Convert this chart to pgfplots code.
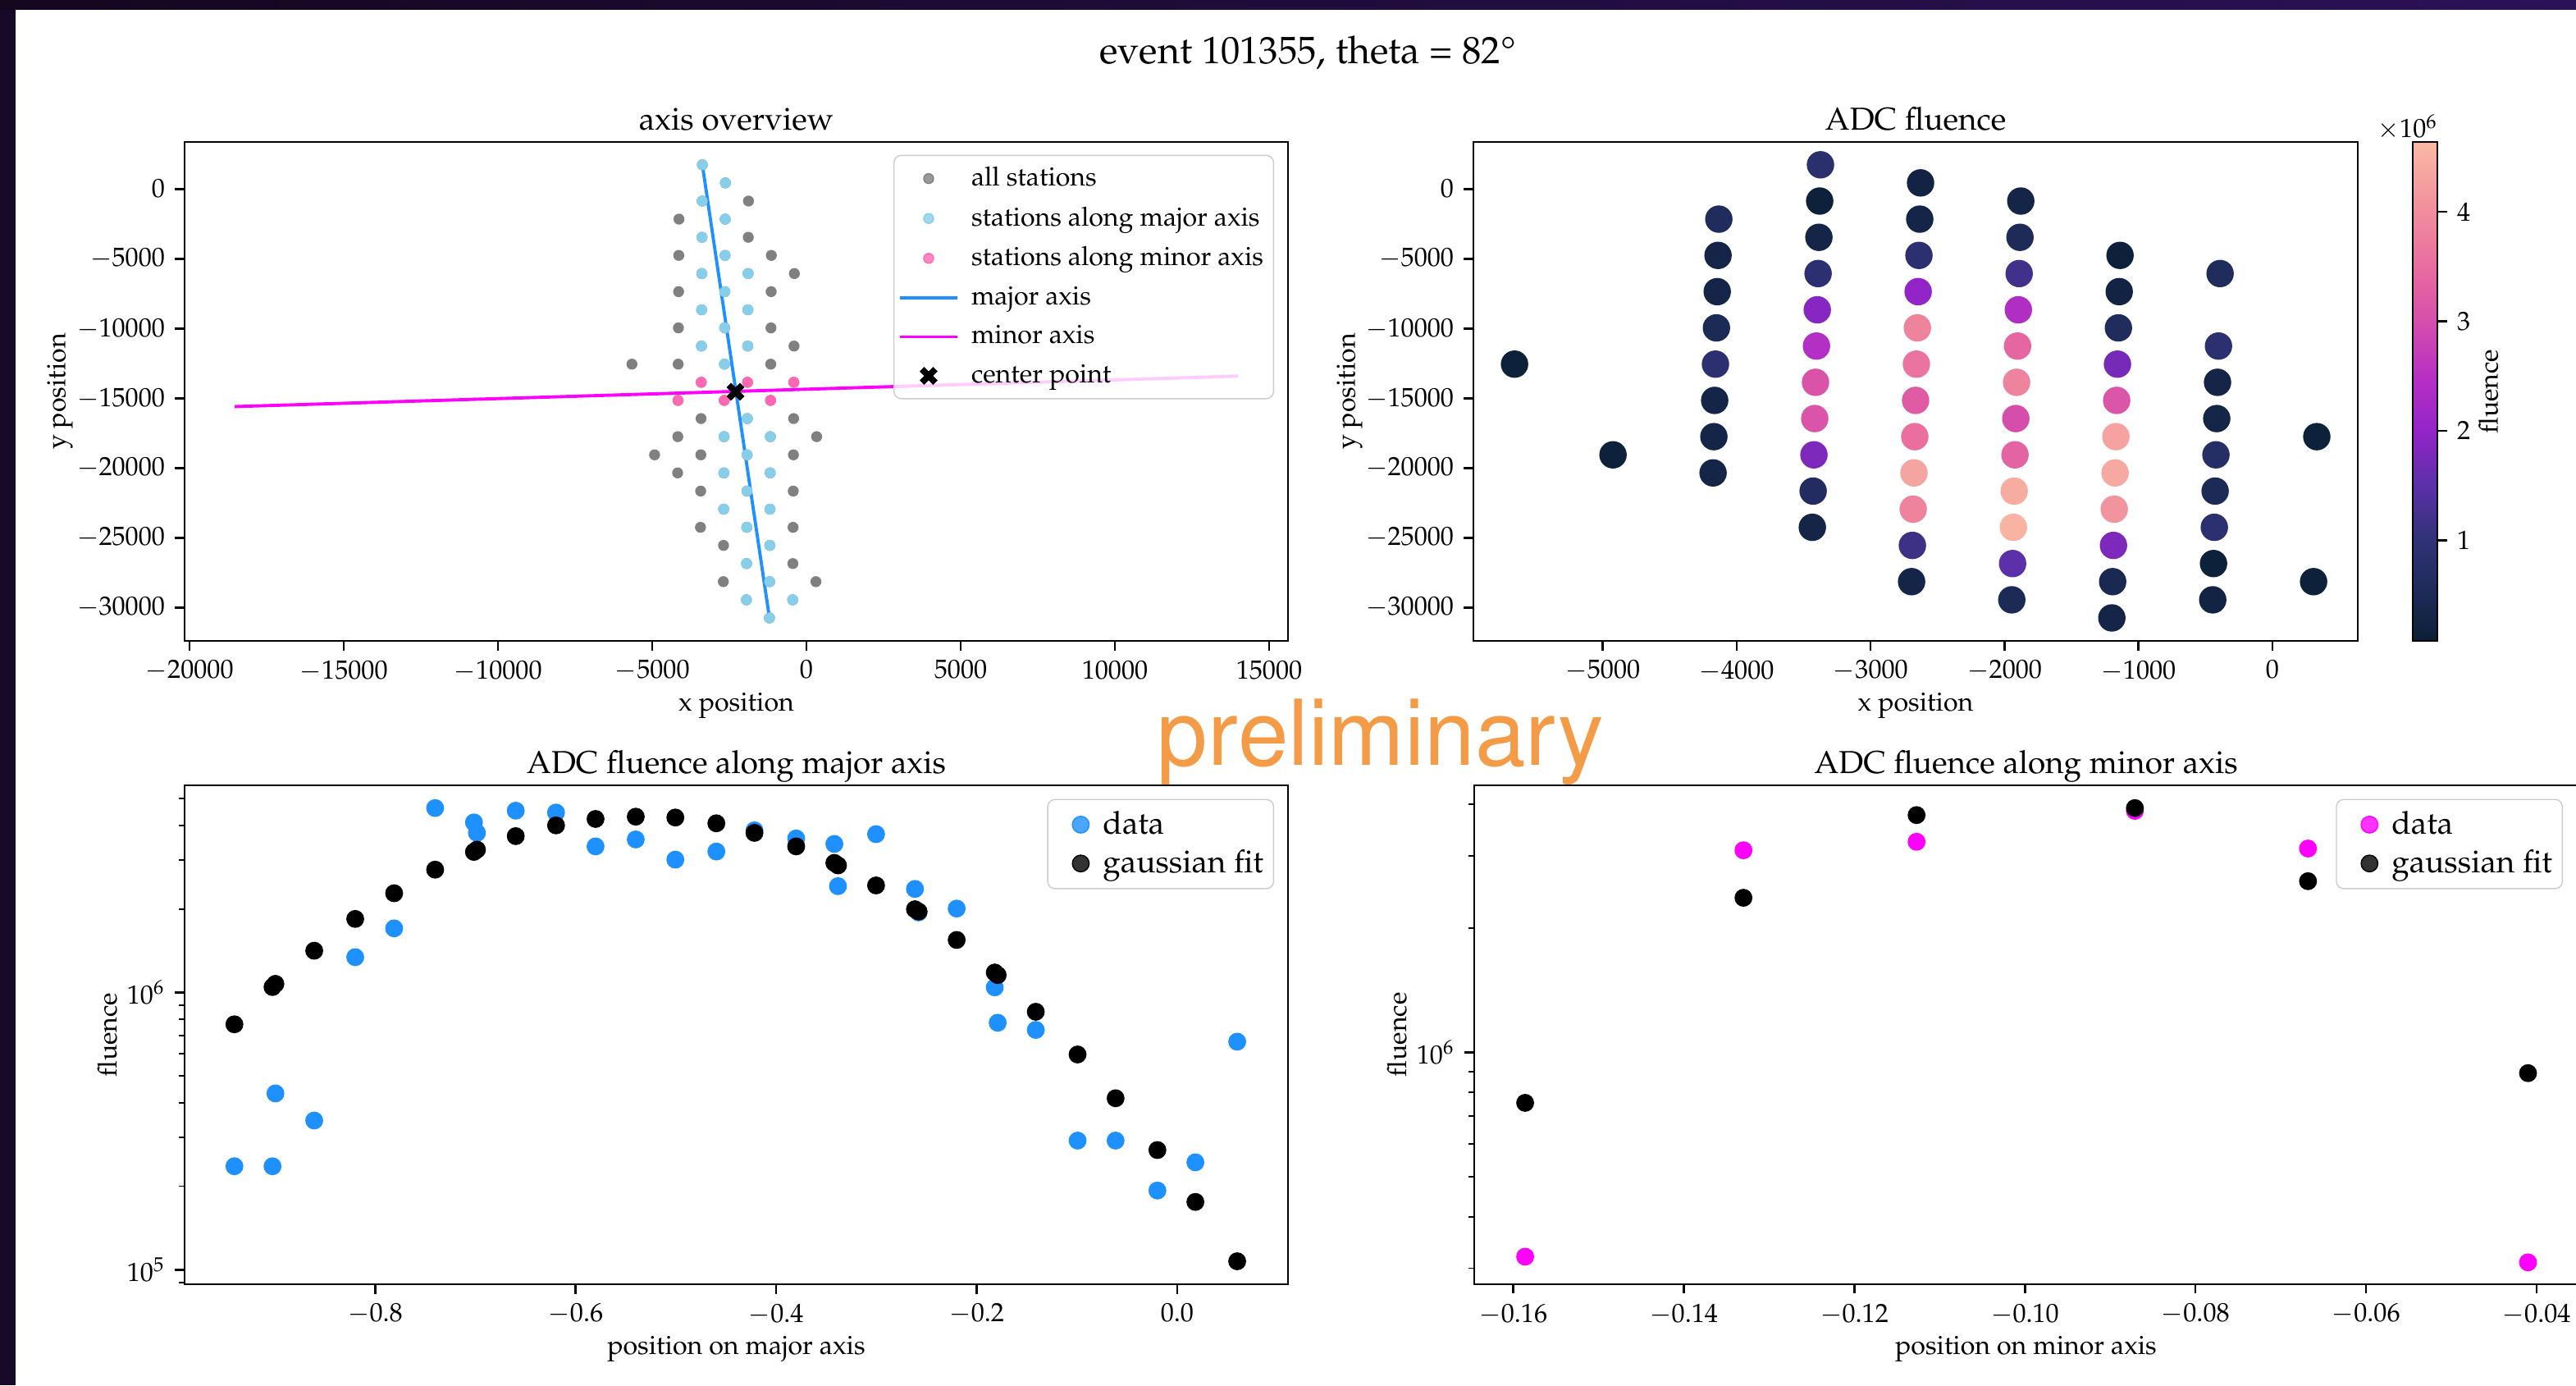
\documentclass[border=0pt]{standalone}
\usepackage[T1]{fontenc}
\usepackage{mathpazo}
\usepackage{pgfplots}
\pgfplotsset{compat=1.18}
\usepackage{pgfplotstable}

\definecolor{skyblue}{HTML}{87CEEB}
\definecolor{hotpink}{HTML}{FF69B4}
\definecolor{dodger}{HTML}{1E90FF}
\definecolor{mgray}{HTML}{808080}
\definecolor{mmag}{HTML}{FF00FF}
\definecolor{wmark}{RGB}{244,155,72}
\definecolor{frameL}{HTML}{14071E}
\definecolor{frameR}{HTML}{2B1157}

\newcommand\tickfont{\fontsize{9.15}{11}\selectfont}
\newcommand\titlefont{\fontsize{11}{13.2}\selectfont}

% stations: x, y, fluence (1e6), c = 0 other / 1 major axis / 2 minor axis
\pgfplotstableread{
x y f c
-5658 -12558 0.15 0
-4923 -19056 0.15 0
-4133 -2166 0.60 0
-4139 -4764 0.30 0
-4145 -7362 0.30 0
-4151 -9960 0.50 0
-4158 -12558 0.90 0
-4164 -15156 0.32 2
-4170 -17754 0.30 0
-4176 -20352 0.30 0
-3374 1728 0.85 1
-3380 -870 0.15 1
-3386 -3468 0.30 1
-3392 -6066 0.90 1
-3398 -8664 1.90 1
-3404 -11262 2.45 1
-3411 -13860 3.09 2
-3417 -16458 3.10 0
-3423 -19056 1.80 0
-3429 -21654 0.65 0
-3435 -24252 0.30 0
-2627 432 0.25 1
-2633 -2166 0.30 1
-2639 -4764 0.90 1
-2645 -7362 2.00 1
-2651 -9960 3.85 1
-2658 -12558 3.60 1
-2664 -15156 3.24 2
-2670 -17754 3.55 1
-2676 -20352 4.35 1
-2682 -22950 3.85 1
-2688 -25548 1.15 0
-2694 -28146 0.30 0
-1879 -870 0.30 0
-1885 -3468 0.55 0
-1891 -6066 1.20 1
-1897 -8664 2.40 1
-1903 -11262 3.40 1
-1910 -13860 3.85 2
-1916 -16458 3.00 1
-1922 -19056 3.35 1
-1928 -21654 4.45 1
-1934 -24252 4.55 1
-1940 -26850 1.50 1
-1946 -29448 0.50 1
-1138 -4764 0.15 0
-1144 -7362 0.25 0
-1150 -9960 0.60 0
-1157 -12558 1.75 0
-1163 -15156 3.12 2
-1169 -17754 4.30 1
-1175 -20352 4.40 1
-1181 -22950 4.10 1
-1187 -25548 1.80 1
-1193 -28146 0.45 1
-1199 -30744 0.30 1
-391 -6066 0.60 0
-403 -11262 0.90 0
-410 -13860 0.31 2
-416 -16458 0.30 0
-422 -19056 0.75 0
-428 -21654 0.50 0
-434 -24252 0.90 0
-440 -26850 0.15 0
-446 -29448 0.25 1
331 -17754 0.15 0
307 -28146 0.15 0
}\stations

\pgfplotstableread{
pos data fit
-0.9403 2.36e5 7.67e5
-0.9023 2.36e5 1.045e6
-0.8994 4.32e5 1.073e6
-0.8607 3.45e5 1.413e6
-0.8198 1.339e6 1.84e6
-0.7810 1.701e6 2.277e6
-0.7401 4.62e6 2.77e6
-0.7014 4.10e6 3.21e6
-0.6984 3.76e6 3.27e6
-0.6597 4.52e6 3.66e6
-0.6195 4.45e6 4.00e6
-0.5801 3.36e6 4.22e6
-0.5400 3.56e6 4.30e6
-0.5005 3.01e6 4.27e6
-0.4596 3.22e6 4.07e6
-0.4216 3.84e6 3.76e6
-0.3800 3.59e6 3.36e6
-0.3419 3.43e6 2.93e6
-0.3383 2.415e6 2.87e6
-0.3003 3.72e6 2.43e6
-0.2615 2.36e6 1.994e6
-0.2579 1.942e6 1.957e6
-0.2199 2.005e6 1.545e6
-0.1819 1.042e6 1.179e6
-0.1790 7.77e5 1.154e6
-0.1410 7.32e5 8.51e5
-0.0993 2.92e5 5.97e5
-0.0614 2.92e5 4.15e5
-0.0197 1.929e5 2.70e5
0.0182 2.438e5 1.755e5
0.0599 6.64e5 1.072e5
}\major

\pgfplotstableread{
pos data fit
-0.1586 3.20e5 7.55e5
-0.1330 3.09e6 2.37e6
-0.1127 3.24e6 3.76e6
-0.0871 3.85e6 3.91e6
-0.0668 3.12e6 2.60e6
-0.0410 3.10e5 8.91e5
}\minor

\pgfplotsset{
  mpl/.style={
    scale only axis,
    anchor=south west,
    tick align=outside,
    tick pos=left,
    major tick length=3.3pt,
    minor tick length=1.9pt,
    tick style={black, line width=0.75pt},
    minor tick style={line width=0.55pt},
    axis line style={line width=0.75pt},
    tick label style={font=\tickfont},
    label style={font=\tickfont},
    title style={font=\titlefont, anchor=base, yshift=-1.8pt},
    xlabel shift=-0.1cm,
    scaled ticks=false,
    legend cell align=left,
    legend style={font=\tickfont, draw=black!20, rounded corners=2.5pt, inner xsep=1.5pt,
      fill=white, fill opacity=0.8, text opacity=1, anchor=north east, row sep=1.7pt},
  },
  % line in legend
  legl/.style={legend image code/.code={%
    \draw[##1] (0cm,0cm) -- (0.7cm,0cm);
    \path[draw=none] (0cm,0cm) -- (0.8cm,0cm);}},
  % marker in a long legend slot
  legm/.style={legend image code/.code={%
    \path[##1, only marks] plot coordinates {(0.35cm,0cm)};
    \path[draw=none] (0cm,0cm) -- (0.8cm,0cm);}},
  % marker in a short legend slot
  legs/.style={legend image code/.code={%
    \path[##1, only marks] plot coordinates {(0.35cm,0cm)};
    \path[draw=none] (0cm,0cm) -- (0.55cm,0cm);}},
}

\begin{document}
\begin{tikzpicture}
\fill[white] (0.19,0) rectangle (31.4,16.76);
\fill[frameL!80!frameR] (0,0) rectangle (0.19,16.88);
\shade[left color=frameL, right color=frameR] (0,16.76) rectangle (31.4,16.88);

\node[font=\fontsize{13.25}{16}\selectfont] at (15.94,16.24) {event 101355, theta = 82\textdegree};

% axis overview
\begin{axis}[mpl, at={(2.25cm,9.07cm)}, width=13.45cm, height=6.08cm,
  xmin=-20160, xmax=15612, ymin=-32390, ymax=3365,
  xtick={-20000,-15000,...,15000}, ytick={-30000,-25000,...,0},
  /pgf/number format/.cd, fixed, precision=0, set thousands separator={}, /pgfplots/.cd,
  title={axis overview}, xlabel={x position}, ylabel={y position}, ylabel shift=-0.19cm,
  legend style={at={(0.9874,0.9743)}}]
\addplot[only marks, mark=*, mark size=1.7pt, mgray, legm] table[x=x, y=y] {\stations};
\addplot[only marks, mark=*, mark size=1.7pt, skyblue, legm,
  restrict expr to domain={\thisrow{c}}{1:1}] table[x=x, y=y] {\stations};
\addplot[only marks, mark=*, mark size=1.7pt, hotpink, legm,
  restrict expr to domain={\thisrow{c}}{2:2}] table[x=x, y=y] {\stations};
\addplot[dodger, line width=1.1pt, legl] coordinates {(-3374,1728) (-1199,-30744)};
\addplot[mmag, line width=1.1pt, legl] coordinates {(-18534,-15600) (13986,-13416)};
\addplot[only marks, mark=x, mark size=3.3pt, line width=2.2pt, black, legm] coordinates {(-2300,-14540)};
\legend{all stations, stations along major axis, stations along minor axis, major axis, minor axis, center point}
\end{axis}

% ADC fluence map
\begin{axis}[mpl, at={(17.96cm,9.07cm)}, width=10.78cm, height=6.08cm,
  xmin=-5965, xmax=637, ymin=-32390, ymax=3365,
  xtick={-5000,-4000,...,0}, ytick={-30000,-25000,...,0},
  /pgf/number format/.cd, fixed, precision=0, set thousands separator={}, /pgfplots/.cd,
  title={ADC fluence}, xlabel={x position}, ylabel={y position}, ylabel shift=-0.2cm,
  colormap={fl}{rgb255(0pt)=(11,31,54) rgb255(417pt)=(28,42,86) rgb255(917pt)=(48,50,118)
    rgb255(1417pt)=(91,48,168) rgb255(1917pt)=(147,36,200) rgb255(2417pt)=(184,48,196)
    rgb255(2917pt)=(214,78,171) rgb255(3417pt)=(233,108,159) rgb255(3917pt)=(240,141,157)
    rgb255(4553pt)=(250,185,163)},
  point meta min=0.083, point meta max=4.636,
  colorbar,
  colorbar style={at={(1.0622,1)}, anchor=north west, width=0.3cm,
    ytick={1,2,3,4}, yticklabel pos=right, ytick pos=right,
    tick align=outside, major tick length=3.3pt, tick style={black, line width=0.75pt},
    axis line style={line width=0.75pt},
    yticklabel style={font=\tickfont},
    ylabel={fluence}, ylabel style={font=\tickfont}, ylabel shift=-0.14cm}]
\addplot[scatter, only marks, mark=*, mark size=4.55pt, scatter src=explicit,
  scatter/use mapped color={draw=mapped color, fill=mapped color}]
  table[x=x, y=y, meta=f] {\stations};
\end{axis}
\node[anchor=east, inner sep=0pt, font=\tickfont] at (29.72,15.33) {$\times10^{6}$};

% along major axis
\begin{axis}[mpl, at={(2.25cm,1.23cm)}, width=13.45cm, height=6.08cm, ymode=log,
  xmin=-0.99, xmax=0.1106, ymin=8.86e4, ymax=5.58e6,
  xtick={-0.8,-0.6,-0.4,-0.2,0},
  xticklabel style={/pgf/number format/.cd, fixed, fixed zerofill, precision=1},
  title={ADC fluence along major axis}, xlabel={position on major axis},
  ylabel={fluence}, ylabel shift=-0.12cm,
  legend style={at={(0.9874,0.9727)}, font=\fontsize{11}{13}\selectfont, row sep=0pt}]
\addplot[only marks, mark=*, mark size=2.9pt, dodger, legs] table[x=pos, y=data] {\major};
\addplot[only marks, mark=*, mark size=2.9pt, black, legs] table[x=pos, y=fit] {\major};
\legend{data, gaussian fit}
\end{axis}

% along minor axis
\begin{axis}[mpl, at={(17.97cm,1.23cm)}, width=13.45cm, height=6.08cm, ymode=log,
  xmin=-0.16457, xmax=-0.03518, ymin=2.744e5, ymax=4.44e6,
  xtick={-0.16,-0.14,-0.12,-0.10,-0.08,-0.06,-0.04},
  ytick={1e6}, minor ytick={3e5,4e5,5e5,6e5,7e5,8e5,9e5,2e6,3e6,4e6},
  xticklabel style={/pgf/number format/.cd, fixed, fixed zerofill, precision=2},
  title={ADC fluence along minor axis}, xlabel={position on minor axis},
  ylabel={fluence}, ylabel shift=-0.12cm,
  legend style={at={(0.9866,0.9727)}, font=\fontsize{11}{13}\selectfont, row sep=0pt}]
\addplot[only marks, mark=*, mark size=2.9pt, mmag, legs] table[x=pos, y=data] {\minor};
\addplot[only marks, mark=*, mark size=2.9pt, black, legs] table[x=pos, y=fit] {\minor};
\legend{data, gaussian fit}
\end{axis}

\node[anchor=base, text=wmark, font={\fontsize{31.5}{36}\usefont{T1}{phv}{m}{n}}] at (16.83,7.55) {preliminary};

\pgfresetboundingbox
\useasboundingbox (0,0) rectangle (31.4,16.88);
\end{tikzpicture}
\end{document}
